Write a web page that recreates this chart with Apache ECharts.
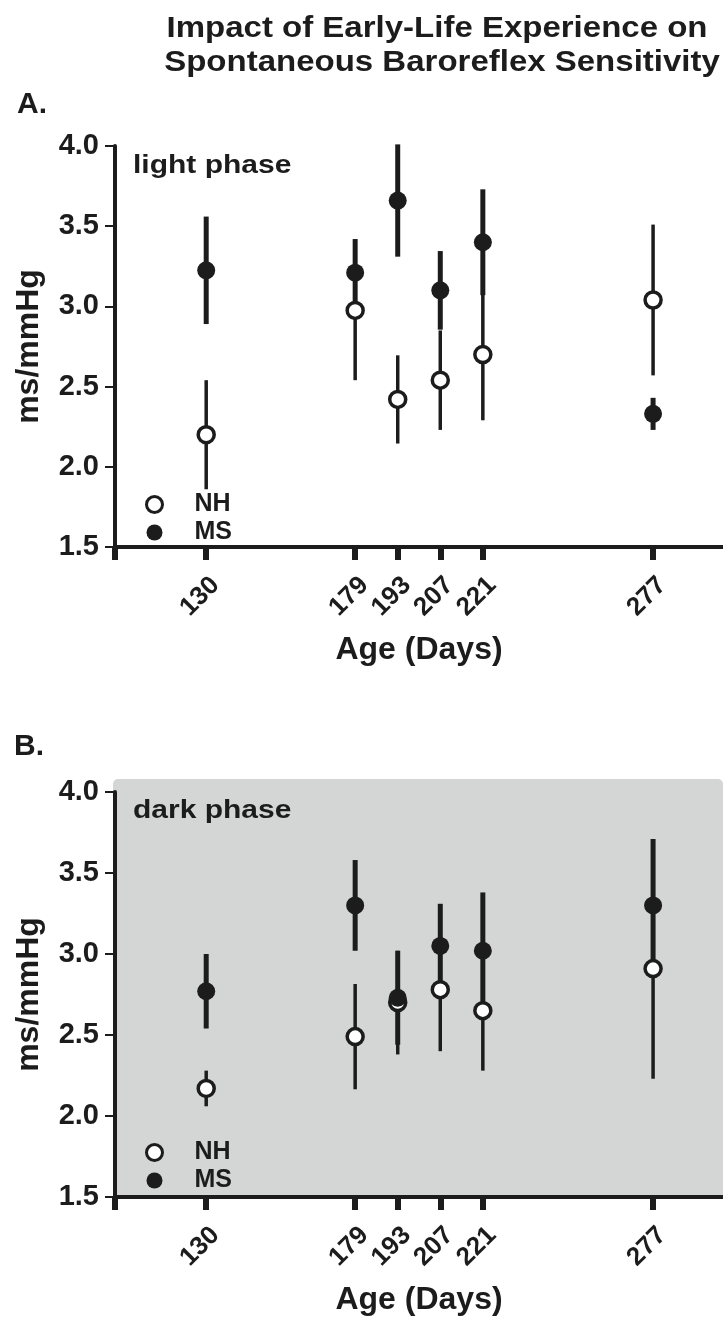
<!DOCTYPE html>
<html lang="en">
  <head>
    <meta charset="UTF-8" />
    <script src="https://cdn.jsdelivr.net/npm/echarts@6/dist/echarts.min.js"></script>
    <title>Baroreflex sensitivity</title>
    <style>
      html, body { margin: 0; padding: 0; background: #fff; }
    </style>
  </head>
  <body>
    <div id="chart" style="width: 723px; height: 1323px;"></div>

    <script>
      // age (days) of each measurement
      const days = [130, 179, 193, 207, 221, 277];
      const tickDays = [100, 130, 179, 193, 207, 221, 277];

      // A. light phase (mean, SEM)
      const lightNH = [2.20, 2.975, 2.42, 2.54, 2.70, 3.04];
      const lightNHErr = [0.34, 0.435, 0.275, 0.31, 0.41, 0.47];
      const lightMS = [3.225, 3.21, 3.66, 3.10, 3.40, 2.33];
      const lightMSErr = [0.335, 0.21, 0.35, 0.245, 0.33, 0.10];

      // B. dark phase (mean, SEM)
      const darkNH = [2.17, 2.49, 2.70, 2.78, 2.65, 2.91];
      const darkNHErr = [0.11, 0.325, 0.32, 0.38, 0.37, 0.68];
      const darkMS = [2.77, 3.30, 2.73, 3.05, 3.02, 3.30];
      const darkMSErr = [0.23, 0.28, 0.29, 0.26, 0.36, 0.41];

      const ink = "#1c1c1c";
      const font = '"Liberation Sans", Arial, sans-serif';
      const grey = "#d4d5d5";

      const chart = echarts.init(document.getElementById("chart"));

      function xAxisFor(gridIndex) {
        return {
          type: "value",
          gridIndex: gridIndex,
          min: 100,
          max: 300,
          name: "Age (Days)",
          nameLocation: "middle",
          nameGap: 87,
          nameTextStyle: { fontFamily: font, fontWeight: "bold", fontSize: 32, color: ink },
          axisLine: { lineStyle: { color: ink, width: 4 } },
          axisTick: { customValues: tickDays, length: 13, lineStyle: { color: ink, width: 6 } },
          axisLabel: {
            customValues: days,
            rotate: 45,
            margin: 25,
            verticalAlign: "top",
            fontFamily: font,
            fontWeight: "bold",
            fontSize: 26,
            color: ink,
          },
          splitLine: { show: false },
        };
      }

      function yAxisFor(gridIndex) {
        return {
          type: "value",
          gridIndex: gridIndex,
          min: 1.5,
          max: 4.0,
          interval: 0.5,
          name: "ms/mmHg",
          nameLocation: "middle",
          nameGap: 70,
          nameTextStyle: { fontFamily: font, fontWeight: "bold", fontSize: 32, color: ink },
          axisLine: { show: true, lineStyle: { color: ink, width: 4 } },
          axisTick: { show: true, length: 10, lineStyle: { color: ink, width: 2 } },
          axisLabel: {
            margin: 16,
            fontFamily: font,
            fontWeight: "bold",
            fontSize: 29,
            color: ink,
            formatter: (v) => v.toFixed(1),
          },
          splitLine: { show: false },
        };
      }

      // vertical error bar, no caps
      function errorBars(idx, means, errs, width) {
        return {
          type: "custom",
          name: "err",
          xAxisIndex: idx,
          yAxisIndex: idx,
          data: days.map((d, i) => [d, means[i] - errs[i], means[i] + errs[i]]),
          encode: { x: 0, y: [1, 2] },
          renderItem: (params, api) => {
            const a = api.coord([api.value(0), api.value(1)]);
            const b = api.coord([api.value(0), api.value(2)]);
            return {
              type: "line",
              shape: { x1: a[0], y1: a[1], x2: b[0], y2: b[1] },
              style: { stroke: ink, lineWidth: width },
            };
          },
          silent: true,
        };
      }

      function points(idx, name, means, open) {
        return {
          type: "scatter",
          name: name,
          xAxisIndex: idx,
          yAxisIndex: idx,
          symbol: "circle",
          symbolSize: open ? 16 : 18,
          itemStyle: open
            ? { color: "#fff", borderColor: ink, borderWidth: 3.5, opacity: 1 }
            : { color: ink, borderWidth: 0, opacity: 1 },
          data: days.map((d, i) => [d, means[i]]),
        };
      }

      function legendFor(top) {
        return {
          orient: "vertical",
          left: 140,
          top: top,
          itemWidth: 16,
          itemHeight: 16,
          itemGap: 3,
          selectedMode: false,
          textStyle: {
            fontFamily: font,
            fontWeight: "bold",
            fontSize: 25,
            color: ink,
            padding: [0, 0, 0, 27],
          },
          data: [
            { name: "NH", icon: "circle", itemStyle: { color: "#fff", borderColor: ink, borderWidth: 3, opacity: 1 } },
            { name: "MS", icon: "circle", itemStyle: { color: ink, borderWidth: 0, opacity: 1 } },
          ],
        };
      }

      const option = {
        animation: false,
        backgroundColor: "#fff",
        grid: [
          { left: 115, right: 0, top: 146, height: 401 },
          { left: 115, right: 0, top: 792, height: 405 },
        ],
        xAxis: [xAxisFor(0), xAxisFor(1)],
        yAxis: [yAxisFor(0), yAxisFor(1)],
        legend: [legendFor(487), legendFor(1135)],
        graphic: [
          {
            type: "rect",
            z: -10,
            silent: true,
            shape: { x: 113, y: 779, width: 610, height: 418, r: [5, 5, 0, 0] },
            style: { fill: grey },
          },
          {
            type: "text",
            x: 437,
            y: 29,
            scaleX: 1.1,
            style: {
              text: "Impact of Early-Life Experience on",
              font: "bold 30px " + font,
              fill: ink,
              align: "center", textAlign: "center",
              verticalAlign: "middle", textVerticalAlign: "middle",
            },
          },
          {
            type: "text",
            x: 442,
            y: 63,
            scaleX: 1.1,
            style: {
              text: "Spontaneous Baroreflex Sensitivity",
              font: "bold 30px " + font,
              fill: ink,
              align: "center", textAlign: "center",
              verticalAlign: "middle", textVerticalAlign: "middle",
            },
          },
          {
            type: "text",
            x: 17,
            y: 105,
            style: {
              text: "A.",
              font: "bold 30px " + font,
              fill: ink,
              align: "left", textAlign: "left",
              verticalAlign: "middle", textVerticalAlign: "middle",
            },
          },
          {
            type: "text",
            x: 14,
            y: 747,
            style: {
              text: "B.",
              font: "bold 30px " + font,
              fill: ink,
              align: "left", textAlign: "left",
              verticalAlign: "middle", textVerticalAlign: "middle",
            },
          },
          {
            type: "text",
            x: 133,
            y: 166,
            scaleX: 1.2,
            style: {
              text: "light phase",
              font: "bold 25px " + font,
              fill: ink,
              align: "left", textAlign: "left",
              verticalAlign: "middle", textVerticalAlign: "middle",
            },
          },
          {
            type: "text",
            x: 133,
            y: 811,
            scaleX: 1.2,
            style: {
              text: "dark phase",
              font: "bold 25px " + font,
              fill: ink,
              align: "left", textAlign: "left",
              verticalAlign: "middle", textVerticalAlign: "middle",
            },
          },
        ],
        series: [
          errorBars(0, lightNH, lightNHErr, 3.5),
          points(0, "NH", lightNH, true),
          errorBars(0, lightMS, lightMSErr, 5),
          points(0, "MS", lightMS, false),
          errorBars(1, darkNH, darkNHErr, 3.5),
          points(1, "NH", darkNH, true),
          errorBars(1, darkMS, darkMSErr, 5),
          points(1, "MS", darkMS, false),
        ],
      };

      chart.setOption(option);
    </script>
  </body>
</html>
